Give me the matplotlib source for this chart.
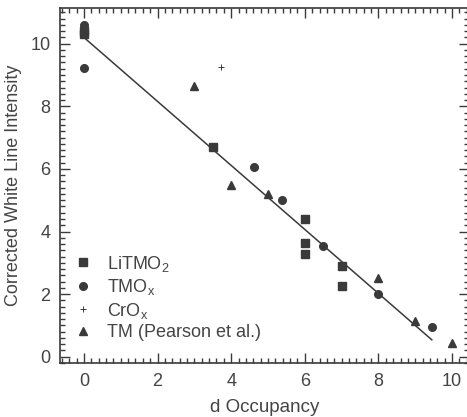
import matplotlib.pyplot as plt
from matplotlib.ticker import MultipleLocator

plt.rcParams["font.family"] = ["Liberation Sans", "DejaVu Sans"]
plt.rcParams["mathtext.default"] = "regular"

ink = "#3a3a3a"
txt = "#444444"

# white line intensity vs d occupancy, by sample family
litmo2_x = [0, 0, 3.5, 6, 6, 6, 7, 7]
litmo2_y = [10.4, 10.3, 6.7, 4.4, 3.64, 3.29, 2.9, 2.27]

tmox_x = [0, 0, 4.63, 5.37, 6.5, 8, 9.45]
tmox_y = [10.6, 9.23, 6.07, 5.02, 3.55, 2.0, 0.96]

crox_x = [3.72]
crox_y = [9.25]

pearson_x = [3, 4, 5, 8, 9, 10]
pearson_y = [8.66, 5.5, 5.2, 2.52, 1.15, 0.45]

# linear fit drawn across the data range
fit_x = [0, 9.45]
fit_y = [10.2, 0.54]

fig = plt.figure(figsize=(4.67, 4.17), dpi=100)
ax = fig.add_axes([0.1285, 0.1295, 0.875, 0.852])

ax.plot(fit_x, fit_y, color=ink, lw=1.1)
ax.plot(litmo2_x, litmo2_y, "s", ms=5.2, color=ink, ls="none", label="LiTMO$_2$")
ax.plot(tmox_x, tmox_y, "o", ms=5.5, color=ink, ls="none", label="TMO$_x$")
ax.plot(crox_x, crox_y, "+", ms=5, mew=0.7, color=ink, ls="none", label="CrO$_x$")
ax.plot(pearson_x, pearson_y, "^", ms=5.5, color=ink, ls="none",
        label="TM (Pearson et al.)")

ax.set_xlim(-0.65, 10.45)
ax.set_ylim(-0.2, 11.15)
ax.xaxis.set_major_locator(MultipleLocator(2))
ax.xaxis.set_minor_locator(MultipleLocator(0.2))
ax.yaxis.set_major_locator(MultipleLocator(2))
ax.yaxis.set_minor_locator(MultipleLocator(0.2))
ax.tick_params(which="both", direction="in", top=True, right=True,
               color=ink, width=1.0)
ax.tick_params(which="major", length=7, labelsize=13, labelcolor=txt, pad=7)
ax.tick_params(which="minor", length=3.5)
for s in ax.spines.values():
    s.set_color(ink)
    s.set_linewidth(1.2)

ax.set_xlabel("d Occupancy", fontsize=13.5, color=txt, labelpad=7)
ax.set_ylabel("Corrected White Line Intensity", fontsize=13, color=txt,
              labelpad=6)

ax.legend(loc="lower left", bbox_to_anchor=(-0.005, 0.015), frameon=False,
          fontsize=13, labelcolor=txt, handlelength=1.0,
          handletextpad=0.8, labelspacing=0.2, borderaxespad=0.5)

fig.savefig("out.png", dpi=100)
